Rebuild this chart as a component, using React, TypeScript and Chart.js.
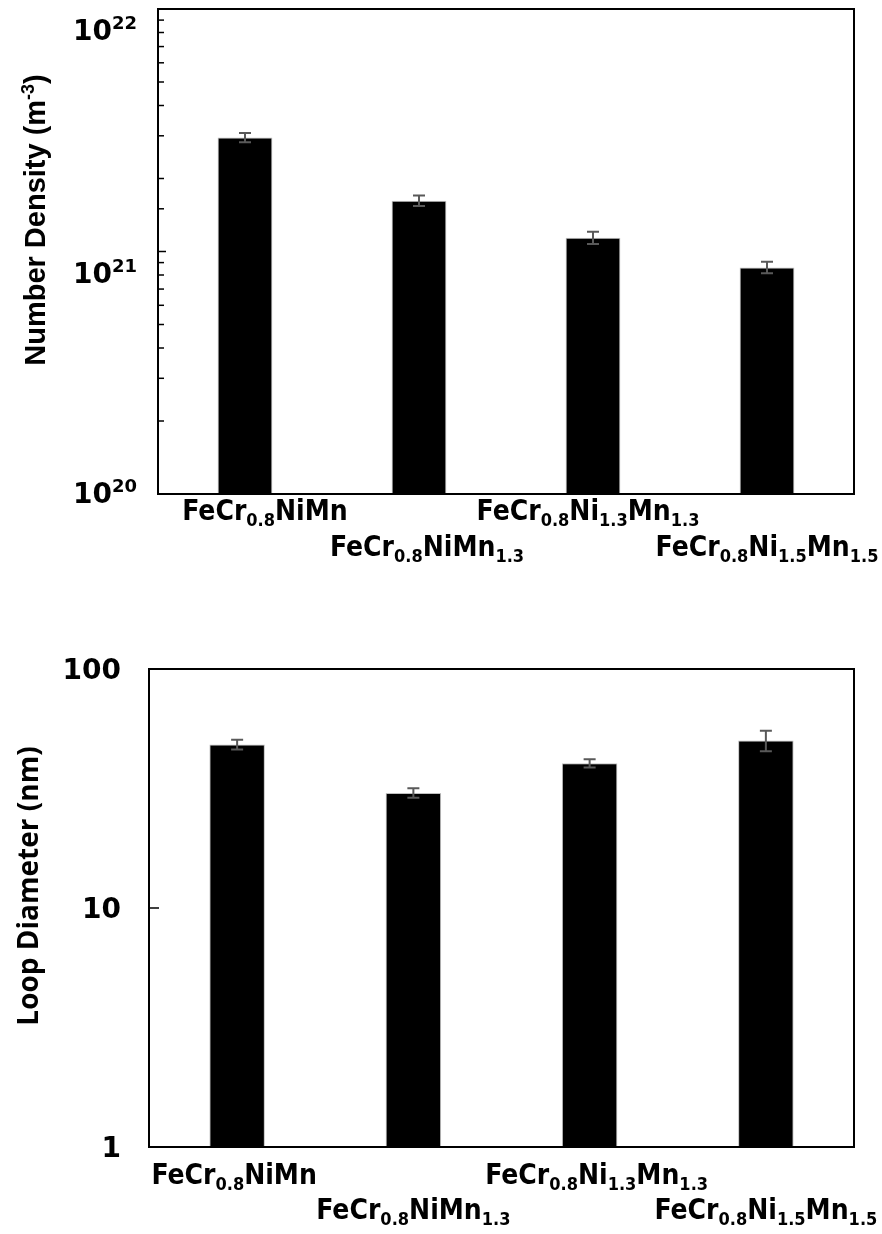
import React, { useEffect, useRef } from "react";
import { Chart, registerables } from "chart.js";

Chart.register(...registerables);

// ---------- data ----------
const categories = [
  "FeCr_{0.8}NiMn",
  "FeCr_{0.8}NiMn_{1.3}",
  "FeCr_{0.8}Ni_{1.3}Mn_{1.3}",
  "FeCr_{0.8}Ni_{1.5}Mn_{1.5}",
];

const densityValues = [2.95e21, 1.62e21, 1.14e21, 0.86e21];
const densityErrors = [0.13e21, 0.08e21, 0.065e21, 0.047e21];
const densityTickValues = [1e22, 1e21, 1e20];
const densityTickLabels = ["10^{22}", "10^{21}", "10^{20}"];
const densityTitle = "Number Density (m^{-3})";

const diameterValues = [48.3, 30.3, 40.3, 50.2];
const diameterErrors = [2.3, 1.4, 1.6, 4.9];
const diameterTickValues = [100, 10, 1];
const diameterTickLabels = ["100", "10", "1"];
const diameterTitle = "Loop Diameter (nm)";

// ---------- rich text helpers ----------
type Seg = { t: string; k: "n" | "sub" | "sup" };
function parseRich(s: string): Seg[] {
  const out: Seg[] = [];
  const re = /([_^])\{([^}]*)\}/g;
  let last = 0;
  let m: RegExpExecArray | null;
  while ((m = re.exec(s))) {
    if (m.index > last) out.push({ t: s.slice(last, m.index), k: "n" });
    out.push({ t: m[2], k: m[1] === "_" ? "sub" : "sup" });
    last = re.lastIndex;
  }
  if (last < s.length) out.push({ t: s.slice(last), k: "n" });
  return out;
}

type RichOpts = {
  size: number;
  family: string;
  weight: string;
  subScale: number;
  subShift: number;
  supShift: number;
  align: "left" | "center" | "right";
  color: string;
};

function drawRich(ctx: CanvasRenderingContext2D, s: string, x: number, y: number, o: RichOpts) {
  const segs = parseRich(s);
  const fontFor = (k: string) =>
    `${o.weight} ${k === "n" ? o.size : Math.round(o.size * o.subScale)}px ${o.family}`;
  let total = 0;
  const widths = segs.map((sg) => {
    ctx.font = fontFor(sg.k);
    const w = ctx.measureText(sg.t).width;
    total += w;
    return w;
  });
  let cx = o.align === "left" ? x : o.align === "center" ? x - total / 2 : x - total;
  ctx.fillStyle = o.color;
  ctx.textBaseline = "alphabetic";
  ctx.textAlign = "left";
  segs.forEach((sg, i) => {
    ctx.font = fontFor(sg.k);
    const dy = sg.k === "sub" ? o.subShift : sg.k === "sup" ? -o.supShift : 0;
    ctx.fillText(sg.t, cx, y + dy);
    cx += widths[i];
  });
}

// ---------- chart factory ----------
type Cfg = {
  values: number[];
  errors: number[];
  min: number;
  max: number;
  tickValues: number[];
  tickLabels: string[];
  title: string;
  width: number;
  height: number;
  area: { left: number; top: number; right: number; bottom: number };
  minorTicks: boolean;
  yLabel: { right: number; dy: number[]; size: number; supSize: number; supShift: number };
  titleStyle: { x: number; y: number; size: number; family: string };
  xRows: number[];
  xShift: number[];
  xLabelSize: number;
};

function makeChart(canvas: HTMLCanvasElement, c: Cfg) {
  const overlay = {
    id: "overlay",
    afterDatasetsDraw(chart: any) {
      const ctx: CanvasRenderingContext2D = chart.ctx;
      const ys = chart.scales.y;
      const xs = chart.scales.x;
      const a = chart.chartArea;
      ctx.save();
      // error bars
      const meta = chart.getDatasetMeta(0);
      ctx.strokeStyle = "#595959";
      ctx.lineWidth = 2;
      meta.data.forEach((bar: any, i: number) => {
        const v = c.values[i];
        const e = c.errors[i];
        const y1 = ys.getPixelForValue(v + e);
        const y2 = ys.getPixelForValue(v - e);
        const x = bar.x;
        ctx.beginPath();
        ctx.moveTo(x, y1);
        ctx.lineTo(x, y2);
        ctx.moveTo(x - 6, y1);
        ctx.lineTo(x + 6, y1);
        ctx.moveTo(x - 6, y2);
        ctx.lineTo(x + 6, y2);
        ctx.stroke();
      });
      // frame
      ctx.strokeStyle = "#000";
      ctx.lineWidth = 2;
      ctx.strokeRect(a.left, a.top, a.right - a.left, a.bottom - a.top);
      // y tick marks (inside)
      ctx.lineWidth = 1.5;
      (ys.ticks || []).forEach((t: any) => {
        const lg = Math.log10(t.value);
        const major = Math.abs(lg - Math.round(lg)) < 1e-9;
        if (!major && !c.minorTicks) return;
        const py = ys.getPixelForValue(t.value);
        const len = major ? (c.minorTicks ? 8 : 10) : 6;
        ctx.beginPath();
        ctx.moveTo(a.left, py);
        ctx.lineTo(a.left + len, py);
        ctx.stroke();
      });
      // y tick labels
      c.tickValues.forEach((v, i) => {
        const py = ys.getPixelForValue(v);
        drawRich(ctx, c.tickLabels[i], c.yLabel.right, py + c.yLabel.dy[i], {
          size: c.yLabel.size,
          family: "'DejaVu Sans', sans-serif",
          weight: "bold",
          subScale: c.yLabel.supSize / c.yLabel.size,
          subShift: 0,
          supShift: c.yLabel.supShift,
          align: "right",
          color: "#000",
        });
      });
      // x category labels (staggered)
      categories.forEach((lab, i) => {
        const px = xs.getPixelForValue(i) + c.xShift[i];
        const py = a.bottom + c.xRows[i % 2];
        drawRich(ctx, lab, px, py, {
          size: c.xLabelSize,
          family: "'Liberation Sans Narrow', 'DejaVu Sans Condensed', sans-serif",
          weight: "bold",
          subScale: 0.66,
          subShift: 6,
          supShift: 8,
          align: "center",
          color: "#000",
        });
      });
      // axis title
      ctx.translate(c.titleStyle.x, c.titleStyle.y);
      ctx.rotate(-Math.PI / 2);
      drawRich(ctx, c.title, 0, 0, {
        size: c.titleStyle.size,
        family: c.titleStyle.family,
        weight: "bold",
        subScale: 0.62,
        subShift: 5,
        supShift: 11,
        align: "center",
        color: "#000",
      });
      ctx.restore();
    },
  };

  return new Chart(canvas, {
    type: "bar",
    data: {
      labels: categories,
      datasets: [
        {
          data: c.values,
          backgroundColor: "#000000",
          borderColor: "#c0c0c0",
          borderWidth: 1,
          barPercentage: 0.315,
          categoryPercentage: 1,
        },
      ],
    },
    options: {
      responsive: false,
      animation: false,
      events: [],
      layout: {
        padding: {
          left: 0,
          top: c.area.top,
          right: c.width - c.area.right,
          bottom: 0,
        },
      },
      plugins: { legend: { display: false }, tooltip: { enabled: false }, title: { display: false } },
      scales: {
        x: {
          type: "category",
          grid: { display: false },
          border: { display: false },
          ticks: { display: false },
          afterFit: (s: any) => {
            s.height = c.height - c.area.bottom;
          },
        },
        y: {
          type: "logarithmic",
          min: c.min,
          max: c.max,
          grid: { display: false },
          border: { display: false },
          ticks: { display: false },
          afterFit: (s: any) => {
            s.width = c.area.left;
          },
        },
      },
    },
    plugins: [overlay],
  } as any);
}

export default function App() {
  const topRef = useRef<HTMLCanvasElement>(null);
  const botRef = useRef<HTMLCanvasElement>(null);

  useEffect(() => {
    const c1 = makeChart(topRef.current!, {
      values: densityValues,
      errors: densityErrors,
      min: 1e20,
      max: 1e22,
      tickValues: densityTickValues,
      tickLabels: densityTickLabels,
      title: densityTitle,
      width: 882,
      height: 600,
      area: { left: 158, top: 9, right: 854, bottom: 494 },
      minorTicks: true,
      yLabel: { right: 137, dy: [31, 31, 9], size: 28, supSize: 18, supShift: 11 },
      titleStyle: { x: 45, y: 220, size: 29, family: "'Liberation Sans', Arial, sans-serif" },
      xRows: [26, 62],
      xShift: [20, 8, -5, 0],
      xLabelSize: 28,
    });
    const c2 = makeChart(botRef.current!, {
      values: diameterValues,
      errors: diameterErrors,
      min: 1,
      max: 100,
      tickValues: diameterTickValues,
      tickLabels: diameterTickLabels,
      title: diameterTitle,
      width: 882,
      height: 634,
      area: { left: 149, top: 69, right: 854, bottom: 547 },
      minorTicks: false,
      yLabel: { right: 121, dy: [10, 10, 10], size: 28, supSize: 18, supShift: 11 },
      titleStyle: { x: 38, y: 286, size: 28, family: "'Open Sans', sans-serif" },
      xRows: [37, 72],
      xShift: [-3, 0, 7, 0],
      xLabelSize: 28,
    });
    return () => {
      c1.destroy();
      c2.destroy();
    };
  }, []);

  return (
    <div style={{ position: "absolute", left: 0, top: 0, width: 882, height: 1234, background: "#fff" }}>
      <canvas ref={topRef} width={882} height={600} style={{ position: "absolute", left: 0, top: 0 }} />
      <canvas ref={botRef} width={882} height={634} style={{ position: "absolute", left: 0, top: 600 }} />
    </div>
  );
}
